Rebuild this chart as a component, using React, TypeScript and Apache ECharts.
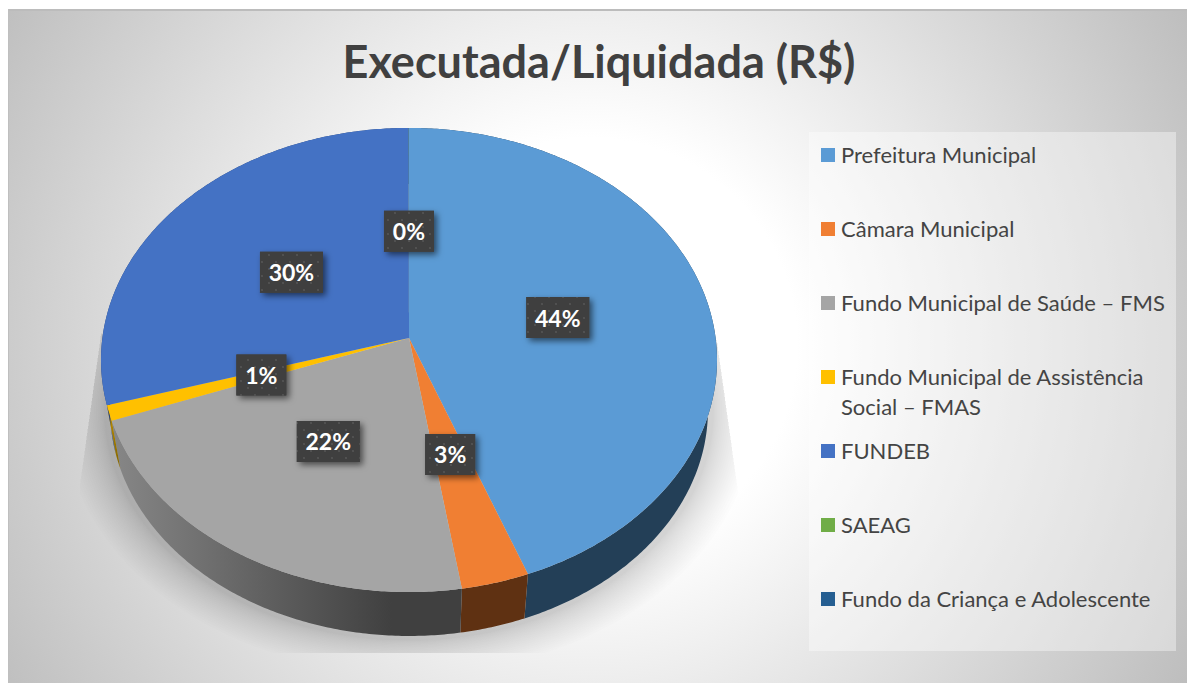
import React, { useEffect, useRef } from "react";
import * as echarts from "echarts";

const titleText = "Executada/Liquidada (R$)";
const categories = [
  "Prefeitura Municipal",
  "Câmara Municipal",
  "Fundo Municipal de Saúde – FMS",
  "Fundo Municipal de Assistência\nSocial – FMAS",
  "FUNDEB",
  "SAEAG",
  "Fundo da Criança e Adolescente",
];
const shares = [44.25, 3.25, 21.85, 1.06, 29.58, 0.01, 0];
const topColors = ["#5b9bd5", "#f07f33", "#a5a5a5", "#ffc000", "#4472c4", "#70ad47", "#255e91"];
const wallFrom = ["#233f57", "#5f3112", "#878787", "#c89600", "#2a4478", "#44682b", "#163858"];
const wallTo = ["#233f57", "#5f3112", "#404040", "#8a6a00", "#2a4478", "#44682b", "#163858"];

const total = shares.reduce((a, b) => a + b, 0);
const startAngle = (i: number) =>
  (shares.slice(0, i).reduce((a, b) => a + b, 0) / total) * Math.PI * 2;

// perspective of the pie's top and bottom discs
const CX = 409;
const TILT = -0.0948;
const top = { y: 338, a: 306.6, b: 230 };
const bottom = { y: 388.5, a: 297.6, b: 224 };

const project = (disc: typeof top, theta: number, r: number) => {
  const u = Math.sin(theta) * r;
  const v = -Math.cos(theta) * r;
  const d = 1 + TILT * v;
  return [CX + (disc.a * u) / d, disc.y + (disc.b * v) / d];
};
const arcPoints = (disc: typeof top, a0: number, a1: number) => {
  const n = Math.max(2, Math.ceil((a1 - a0) / 0.01));
  const pts: number[][] = [];
  for (let i = 0; i <= n; i++) pts.push(project(disc, a0 + ((a1 - a0) * i) / n, 1));
  return pts;
};

const FONT = "Lato";
const HALO_STEPS = 22;

export default function App() {
  const ref = useRef<HTMLDivElement>(null);
  useEffect(() => {
    const chart = echarts.init(ref.current!, undefined, { renderer: "svg" });

    const tile = document.createElement("canvas");
    tile.width = 14;
    tile.height = 14;
    const g = tile.getContext("2d")!;
    g.fillStyle = "#3f3f3f";
    g.fillRect(0, 0, 14, 14);
    g.fillStyle = "#565656";
    [[3, 3], [10, 10]].forEach(([x, y]) => {
      g.beginPath();
      g.arc(x, y, 1.1, 0, Math.PI * 2);
      g.fill();
    });

    const seriesData = categories.map((name, i) => ({ name, value: shares[i] }));

    const legendEls: any[] = [];
    categories.forEach((name, i) => {
      const y = 155 + i * 74;
      legendEls.push({
        type: "rect",
        shape: { x: 821, y: y - 7, width: 14, height: 14 },
        style: { fill: topColors[i] },
        z: 3,
      });
      name.split("\n").forEach((line, j) => {
        legendEls.push({
          type: "text",
          x: 841,
          y: y - 1 + j * 30,
          style: {
            text: line,
            fill: "#444444",
            font: `22px ${FONT}`,
            textVerticalAlign: "middle",
            textAlign: "left",
          },
          z: 3,
        });
      });
    });

    chart.setOption({
      animation: false,
      title: {
        text: titleText,
        left: 594,
        top: 33,
        textAlign: "center",
        textStyle: { fontFamily: FONT, fontWeight: "bold", fontSize: 45, color: "#404040" },
      },
      graphic: {
        elements: [
          {
            type: "rect",
            shape: { x: 8, y: 9, width: 1179, height: 674 },
            style: {
              fill: new echarts.graphic.RadialGradient(
                590, 345, 690,
                [
                  { offset: 0, color: "#ffffff" },
                  { offset: 0.3, color: "#ffffff" },
                  { offset: 1, color: "#bdbdbd" },
                ],
                true
              ),
            },
            z: 0,
          },
          { type: "rect", shape: { x: 8, y: 9, width: 1179, height: 2 }, style: { fill: "#bcbcbc" }, z: 1 },
          { type: "rect", shape: { x: 8, y: 9, width: 1, height: 674 }, style: { fill: "#bfbfbf" }, z: 1 },
          {
            type: "rect",
            shape: { x: 809, y: 132, width: 367, height: 519 },
            style: { fill: "rgba(255,255,255,0.39)" },
            z: 1,
          },
          ...legendEls,
        ],
      },
      series: [
        {
          type: "custom",
          name: "shadow",
          coordinateSystem: "none",
          silent: true,
          z: 2,
          data: [0],
          renderItem: () => {
            const children: any[] = [];
            for (let s = 0; s < HALO_STEPS; s++) {
              const f = 1 - s / (HALO_STEPS - 1);
              const grow = 6 + 42 * Math.pow(f, 1.3);
              const pts: number[][] = [];
              for (let i = 0; i < 160; i++) {
                const t = (i / 160) * Math.PI * 2;
                pts.push([CX + (299 + grow) * Math.cos(t), 410 + (226 + grow * 0.8) * Math.sin(t)]);
              }
              children.push({
                type: "polygon",
                shape: { points: pts },
                style: { fill: "#000000", opacity: 0.0095 },
              });
            }
            return {
              type: "group",
              children,
              clipPath: {
                type: "polygon",
                shape: {
                  points: [[101, 333], [80, 483], [80, 653], [740, 653], [738, 490], [717, 340]],
                },
              },
            };
          },
        },
        {
          type: "custom",
          name: "walls",
          coordinateSystem: "none",
          silent: true,
          z: 3,
          data: seriesData,
          renderItem: (params: any) => {
            const i = params.dataIndex;
            const a0 = startAngle(i);
            const a1 = startAngle(i + 1);
            if (a1 <= a0) return { type: "group", children: [] };
            const pts = [...arcPoints(top, a0, a1), ...arcPoints(bottom, a0, a1).reverse()];
            return {
              type: "polygon",
              shape: { points: pts },
              style: {
                fill: new echarts.graphic.LinearGradient(0, 0, 1, 0, [
                  { offset: 0, color: wallFrom[i] },
                  { offset: 0.8, color: wallTo[i] },
                  { offset: 1, color: wallTo[i] },
                ]),
              },
            };
          },
        },
        {
          type: "custom",
          name: "tops",
          coordinateSystem: "none",
          silent: true,
          z: 4,
          data: seriesData,
          renderItem: (params: any) => {
            const i = params.dataIndex;
            const a0 = startAngle(i);
            const a1 = startAngle(i + 1);
            if (a1 <= a0) return { type: "group", children: [] };
            return {
              type: "polygon",
              shape: { points: [project(top, 0, 0), ...arcPoints(top, a0, a1)] },
              style: { fill: topColors[i] },
            };
          },
        },
        {
          type: "custom",
          name: "labels",
          coordinateSystem: "none",
          silent: true,
          z: 5,
          data: seriesData,
          renderItem: (params: any) => {
            const i = params.dataIndex;
            if (shares[i] <= 0) return { type: "group", children: [] };
            const mid = (startAngle(i) + startAngle(i + 1)) / 2;
            const r = 0.5 - 0.014 * Math.max(0, Math.cos(mid));
            const [x, y] = project(top, mid, r);
            const text = `${Math.round((shares[i] / total) * 100)}%`;
            const w = text.length === 3 ? 63 : 50;
            const h = 41;
            const box = { x: x - w / 2, y: y - h / 2, width: w, height: h };
            return {
              type: "group",
              children: [
                {
                  type: "rect",
                  shape: box,
                  style: {
                    fill: "#3f3f3f",
                    shadowColor: "rgba(0,0,0,0.55)",
                    shadowBlur: 6,
                    shadowOffsetX: 3,
                    shadowOffsetY: 3,
                  },
                },
                {
                  type: "rect",
                  shape: box,
                  style: { fill: { image: tile, repeat: "repeat" } },
                },
                {
                  type: "text",
                  x,
                  y,
                  style: {
                    text,
                    fill: "#ffffff",
                    font: `bold 23px ${FONT}`,
                    textAlign: "center",
                    textVerticalAlign: "middle",
                  },
                },
              ],
            };
          },
        },
      ],
    });
    return () => chart.dispose();
  }, []);
  return (
    <div
      ref={ref}
      style={{ position: "absolute", left: 0, top: 0, width: 1187, height: 683 }}
    />
  );
}
